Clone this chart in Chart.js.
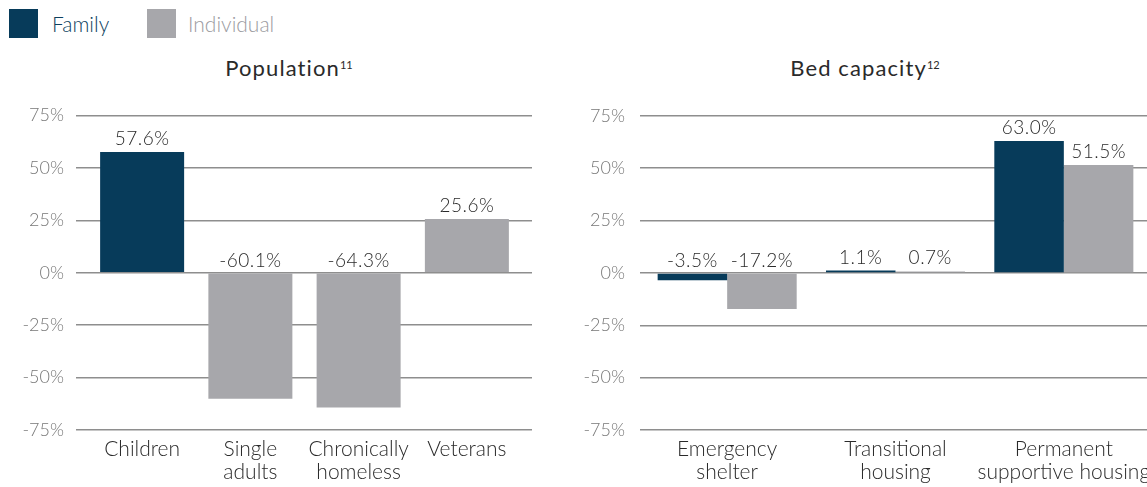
<!DOCTYPE html>
<html>
<head>
<meta charset="utf-8">
<script src="https://cdn.jsdelivr.net/npm/chart.js@4/dist/chart.umd.min.js"></script>
<style>
html,body{margin:0;padding:0;background:#fff;}
body{width:1147px;height:487px;position:relative;overflow:hidden;font-family:Lato,"Open Sans",sans-serif;}
.sw{position:absolute;width:29px;height:29px;top:9px;}
.lt{position:absolute;top:11px;font-size:21px;line-height:26px;font-weight:300;}
.title{position:absolute;top:57px;font-size:22px;line-height:22px;font-weight:400;color:#2a2a2a;white-space:nowrap;transform:translateX(-50%);letter-spacing:1.1px;}
.title sup{font-size:11px;line-height:0;vertical-align:top;position:relative;top:8px;margin-left:0;letter-spacing:0;font-weight:400;}
.wrap{position:absolute;top:90px;height:397px;}
</style>
</head>
<body>
<div class="sw" style="left:9px;background:#073B5A"></div>
<div class="lt" style="left:52px;color:#0d3f5e">Family</div>
<div class="sw" style="left:147px;background:#A7A7AB"></div>
<div class="lt" style="left:188px;color:#9b9b9f">Individual</div>
<div class="title" style="left:289px">Population<sup>11</sup></div>
<div class="title" style="left:865px">Bed capacity<sup>12</sup></div>
<div class="wrap" style="left:0;width:570px"><canvas id="pop"></canvas></div>
<div class="wrap" style="left:570px;width:600px"><canvas id="bed"></canvas></div>
<script>
// ---- data ----
const popCategories = ['Children', ['Single', 'adults'], ['Chronically', 'homeless'], 'Veterans'];
const popFamily = [57.6, null, null, null];
const popIndividual = [null, -60.1, -64.3, 25.6];

const bedCategories = [['Emergency', 'shelter'], ['Transitional', 'housing'], ['Permanent', 'supportive housing']];
const bedFamily = [-3.5, 1.1, 63.0];
const bedIndividual = [-17.2, 0.7, 51.5];

const yMin = -75;
const yMax = 75;
const yStep = 25;

// ---- styles ----
const NAVY = '#073B5A';
const GREY = '#A7A7AB';
const GRID = '#8e8e8e';
const FONT = 'Lato';

const valueLabels = {
  id: 'valueLabels',
  afterDatasetsDraw(chart) {
    const ctx = chart.ctx;
    ctx.save();
    ctx.font = '300 19px ' + FONT;
    if ('letterSpacing' in ctx) ctx.letterSpacing = '0.5px';
    ctx.fillStyle = '#2a2a2a';
    ctx.textAlign = 'center';
    ctx.textBaseline = 'alphabetic';
    chart.data.datasets.forEach((ds, i) => {
      const meta = chart.getDatasetMeta(i);
      meta.data.forEach((el, j) => {
        const v = ds.data[j];
        if (v === null || v === undefined) return;
        const y = Math.min(el.y, el.base) - 7;
        ctx.fillText(v.toFixed(1) + '%', el.x, y);
      });
    });
    ctx.restore();
  }
};

function makeChart(id, labels, fam, ind, opts) {
  const scales = {
    x: {
      grid: { display: false, drawTicks: false },
      border: { display: false },
      ticks: { color: '#2a2a2a', font: { family: FONT, size: 21, weight: 300, lineHeight: 1.1 }, padding: 8, maxRotation: 0, autoSkip: false },
      afterFit(s) { s.height = 57; }
    },
    y: {
      min: yMin, max: yMax,
      border: { display: false },
      grid: { color: GRID, lineWidth: 1.5, tickLength: opts.tickLeft, drawTicks: true },
      ticks: { stepSize: yStep, color: '#777', font: { family: FONT, size: 18, weight: 300 }, padding: opts.tickPad, callback: v => v + '%' },
      afterFit(s) { s.width = opts.yWidth; }
    }
  };
  if (opts.tickRight) {
    scales.y1 = {
      position: 'right',
      min: yMin, max: yMax,
      border: { display: false },
      grid: { color: GRID, lineWidth: 1.5, tickLength: opts.tickRight, drawTicks: true, drawOnChartArea: false },
      ticks: { stepSize: yStep, display: false },
      afterFit(s) { s.width = opts.tickRight; }
    };
  }
  return new Chart(document.getElementById(id), {
    type: 'bar',
    data: {
      labels: labels,
      datasets: [
        { label: 'Family', data: fam, backgroundColor: NAVY, skipNull: true,
          categoryPercentage: opts.catPct, barPercentage: 1 },
        { label: 'Individual', data: ind, backgroundColor: GREY, skipNull: true,
          categoryPercentage: opts.catPct, barPercentage: 1 }
      ]
    },
    options: {
      responsive: true,
      maintainAspectRatio: false,
      animation: false,
      layout: { padding: { top: 25.5, bottom: 0, left: 0, right: opts.padRight } },
      plugins: { legend: { display: false }, tooltip: { enabled: false }, title: { display: false } },
      scales: scales
    },
    plugins: [valueLabels]
  });
}

function draw() {
  makeChart('pop', popCategories, popFamily, popIndividual,
    { yWidth: 88, tickLeft: 12, tickPad: 12, tickRight: 11, padRight: 38, catPct: 0.776 });
  makeChart('bed', bedCategories, bedFamily, bedIndividual,
    { yWidth: 73, tickLeft: 3, tickPad: 15, tickRight: 0, padRight: 22, catPct: 0.826 });
}

Promise.all([
  document.fonts.load('300 19px Lato'),
  document.fonts.load('300 21px Lato'),
  document.fonts.load('300 18px Lato'),
  document.fonts.load('400 22px Lato')
]).then(draw, draw);
</script>
</body>
</html>
